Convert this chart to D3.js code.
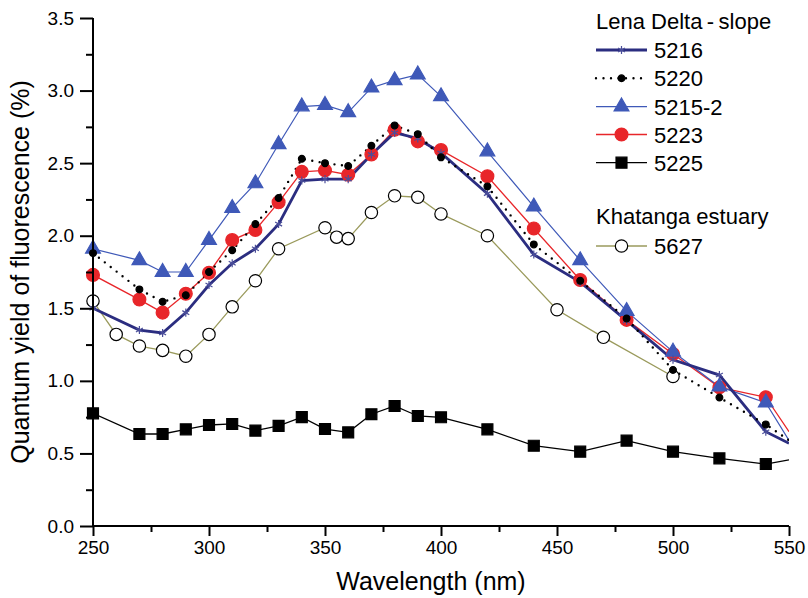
<!DOCTYPE html>
<head>
  <meta charset="utf-8">
  <script src="https://d3js.org/d3.v7.min.js"></script>
  <style>
    body { margin:0; background:#fff; }
    svg { font-family: "Liberation Sans", Arial, sans-serif; }
  </style>
</head>
<body>
  <svg width="808" height="598"></svg>
  <script>
    // wavelengths (nm) for the Lena Delta-slope stations
    var lenaX = [250,270,280,290,300,310,320,330,340,350,360,370,380,390,400,420,440,460,480,500,520,540,550];
    var s5216 = [1.50,1.35,1.33,1.47,1.66,1.81,1.91,2.08,2.38,2.39,2.39,2.56,2.71,2.67,2.57,2.29,1.87,1.68,1.415,1.145,1.04,0.65,0.57];
    var s5220 = [1.88,1.63,1.545,1.59,1.75,1.90,2.08,2.26,2.53,2.50,2.48,2.62,2.76,2.70,2.54,2.34,1.94,1.69,1.43,1.075,0.885,0.70,0.59];
    var s5215_2 = [1.91,1.83,1.75,1.75,1.97,2.19,2.36,2.63,2.89,2.90,2.85,3.02,3.07,3.11,2.96,2.58,2.20,1.83,1.48,1.20,0.96,0.85,0.59];
    var s5223 = [1.73,1.56,1.47,1.60,1.745,1.97,2.04,2.23,2.44,2.45,2.42,2.56,2.73,2.65,2.59,2.41,2.05,1.695,1.42,1.185,0.955,0.887,0.65];
    var s5225 = [0.776,0.634,0.634,0.666,0.696,0.703,0.657,0.69,0.75,0.668,0.645,0.77,0.827,0.758,0.749,0.666,0.553,0.512,0.588,0.512,0.466,0.427,0.455];
    // Khatanga estuary
    var khatX = [250,260,270,280,290,300,310,320,330,350,355,360,370,380,390,400,420,450,470,500];
    var s5627 = [1.55,1.32,1.24,1.21,1.17,1.32,1.51,1.69,1.91,2.055,1.99,1.98,2.16,2.275,2.265,2.15,2.00,1.49,1.30,1.03];

    var xTicks = [250,300,350,400,450,500,550];
    var yTicks = [0,0.5,1,1.5,2,2.5,3,3.5];

    var margin = {top: 18, bottom: 72, left: 93, right: 19};
    var width = 808, height = 598;

    var x = d3.scaleLinear().domain([250,550]).range([margin.left, width - margin.right]);
    var y = d3.scaleLinear().domain([0,3.5]).range([height - margin.bottom, margin.top]);

    var svg = d3.select('svg');

    svg.append('clipPath').attr('id','clip')
      .append('rect')
      .attr('x', x(250)).attr('y', 0)
      .attr('width', x(550) - x(250)).attr('height', y(0));

    // series in drawing order (bottom first)
    var series = [
      {name:'5627', xs:khatX, ys:s5627, color:'#9a9a5c', lw:1.3, sym:'circle', fill:'#fff', stroke:'#000', size:120},
      {name:'5225', xs:lenaX, ys:s5225, color:'#000', lw:1.3, sym:'square', fill:'#000', stroke:'#000', size:120},
      {name:'5223', xs:lenaX, ys:s5223, color:'#e8262a', lw:1.3, sym:'circle', fill:'#e8262a', stroke:'#e8262a', size:130},
      {name:'5215-2', xs:lenaX, ys:s5215_2, color:'#3f59b8', lw:1.2, sym:'triangle', fill:'#3f59b8', stroke:'#3f59b8', size:95},
      {name:'5216', xs:lenaX, ys:s5216, color:'#2b2d80', lw:2.8, sym:'asterisk', fill:'none', stroke:'#4a4e9a', size:45},
      {name:'5220', xs:lenaX, ys:s5220, color:'#000', lw:2.4, dash:'0 7.5', sym:'circle', fill:'#000', stroke:'#000', size:36}
    ];

    var symTypes = {circle:d3.symbolCircle, square:d3.symbolSquare, triangle:d3.symbolTriangle, asterisk:d3.symbolAsterisk};

    var line = d3.line().x(d => x(d[0])).y(d => y(d[1]));

    var plot = svg.append('g').attr('clip-path','url(#clip)');

    series.forEach(s => {
      var pts = s.xs.map((v,i) => [v, s.ys[i]]);
      plot.append('path')
        .attr('d', line(pts))
        .attr('fill','none')
        .attr('stroke', s.color)
        .attr('stroke-width', s.lw)
        .attr('stroke-linecap', s.dash ? 'round' : 'butt')
        .attr('stroke-dasharray', s.dash || null);
      // no marker on the point at the axis end
      svg.append('g').selectAll('path')
        .data(pts.filter(p => p[0] < 550))
        .enter().append('path')
        .attr('transform', p => 'translate(' + [x(p[0]), y(p[1])] + ')')
        .attr('d', d3.symbol().type(symTypes[s.sym]).size(s.size))
        .attr('fill', s.fill)
        .attr('stroke', s.stroke)
        .attr('stroke-width', 1.2);
    });

    // axes
    var fontSize = 19;
    svg.append('g')
      .attr('class','xaxis')
      .attr('transform','translate(0,' + y(0) + ')')
      .call(d3.axisBottom(x).tickValues(xTicks).tickSize(10).tickPadding(5).tickFormat(d3.format('d')));
    svg.append('g')
      .attr('class','xaxis')
      .attr('transform','translate(0,' + y(0) + ')')
      .call(d3.axisBottom(x).tickValues(d3.range(275,550,50)).tickSize(6).tickFormat(''));
    svg.append('g')
      .attr('class','yaxis')
      .attr('transform','translate(' + x(250) + ',0)')
      .call(d3.axisLeft(y).tickValues(yTicks).tickSize(13).tickPadding(6).tickFormat(d3.format('.1f')));
    svg.append('g')
      .attr('class','yaxis')
      .attr('transform','translate(' + x(250) + ',0)')
      .call(d3.axisLeft(y).tickValues(d3.range(0.25,3.5,0.5)).tickSize(7).tickFormat(''));

    svg.selectAll('.tick line').attr('stroke','#000').attr('stroke-width',2);
    svg.selectAll('.tick text').attr('font-size', fontSize).attr('fill','#000')
      .attr('font-family','"Liberation Sans", Arial, sans-serif');
    // plain axis lines without end stubs
    svg.selectAll('.xaxis .domain').attr('d', 'M' + x(250) + ',0H' + x(550));
    svg.selectAll('.yaxis .domain').attr('d', 'M0,' + y(3.5) + 'V' + y(0));
    svg.selectAll('.domain').attr('stroke','#000').attr('stroke-width',2);

    // axis titles
    svg.append('text')
      .attr('x', 431).attr('y', 590)
      .attr('text-anchor','middle')
      .attr('font-size', 25)
      .text('Wavelength (nm)');
    svg.append('text')
      .attr('transform','translate(29,' + ((y(0)+y(3.5))/2) + ') rotate(-90)')
      .attr('text-anchor','middle')
      .attr('font-size', 25)
      .text('Quantum yield of fluorescence (%)');

    // legend
    var lg = svg.append('g');
    var lx0 = 596, lx1 = 647;
    lg.append('text').attr('x', lx0).attr('y', 29).attr('font-size', 22)
      .text('Lena Delta\u2009-\u2009slope');
    lg.append('text').attr('x', lx0).attr('y', 224).attr('font-size', 22)
      .text('Khatanga estuary');
    var legOrder = [
      {s:'5216', yy:50},
      {s:'5220', yy:78.3},
      {s:'5215-2', yy:106.6},
      {s:'5223', yy:134.5},
      {s:'5225', yy:162.7},
      {s:'5627', yy:246}
    ];
    legOrder.forEach(o => {
      var s = series.find(d => d.name === o.s);
      lg.append('line')
        .attr('x1', lx0).attr('x2', lx1).attr('y1', o.yy).attr('y2', o.yy)
        .attr('stroke', s.color).attr('stroke-width', s.lw)
        .attr('stroke-linecap', s.dash ? 'round' : 'butt')
        .attr('stroke-dasharray', s.dash || null);
      lg.append('path')
        .attr('transform','translate(' + [(lx0+lx1)/2, o.yy] + ')')
        .attr('d', d3.symbol().type(symTypes[s.sym]).size(s.size))
        .attr('fill', s.fill)
        .attr('stroke', s.stroke).attr('stroke-width', 1.2);
      lg.append('text').attr('x', 654).attr('y', o.yy + 8).attr('font-size', 22)
        .text(o.s);
    });
  </script>
</body>
